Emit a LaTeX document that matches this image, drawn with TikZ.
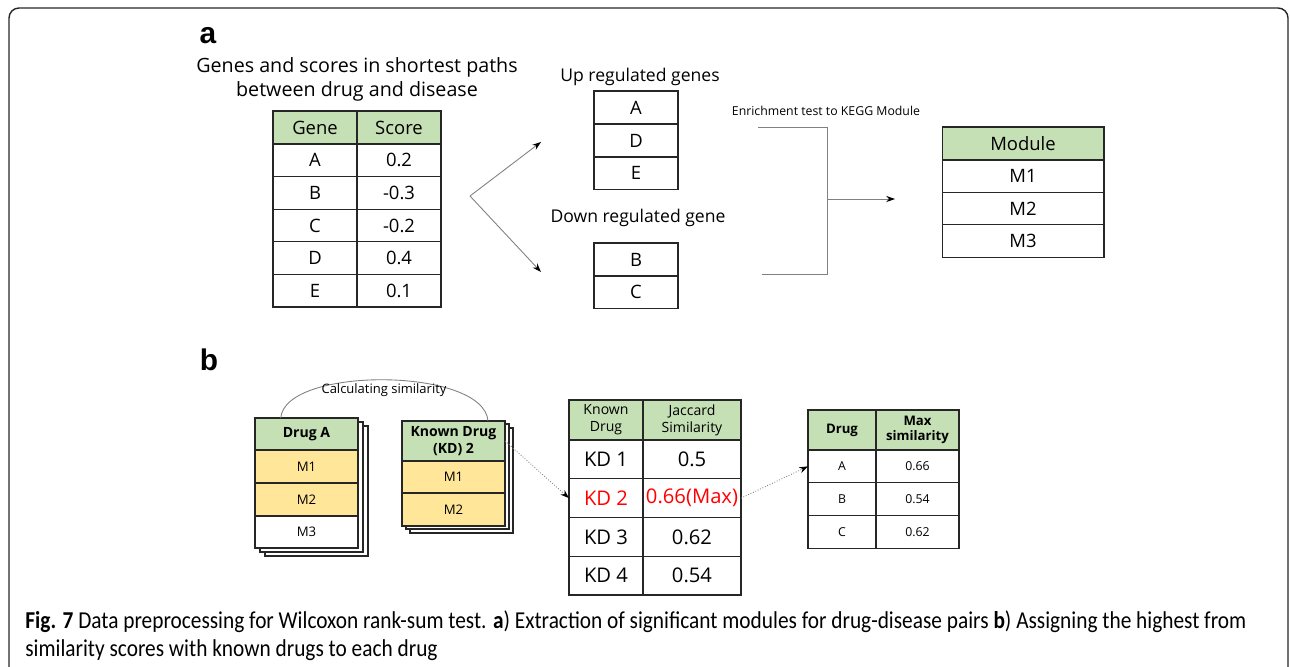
\documentclass[tikz,border=0pt]{standalone}
\usepackage{fontspec}
\setmainfont{Open Sans}
\newfontfamily\labfont{Liberation Sans}
\newfontfamily\capfont[FakeStretch=0.88]{Carlito}
\usepackage{xcolor}
\usetikzlibrary{arrows.meta,calc}

\definecolor{hdgreen}{HTML}{C5E0B4}
\definecolor{mdyellow}{HTML}{FFE699}
\definecolor{linegray}{HTML}{808080}
\definecolor{maxred}{HTML}{FF0000}

\begin{document}
\begin{tikzpicture}[x=0.02cm, y=-0.02cm,
    cell/.style={draw=black!85, line width=0.6pt, inner sep=0pt, outer sep=0pt,
                 align=center, font=\fontsize{10.5}{12}\selectfont},
    head/.style={cell, fill=hdgreen},
    body/.style={font=\fontsize{10}{12}\selectfont},
    small/.style={font=\fontsize{7}{8.5}\selectfont},
    conn/.style={linegray, line width=0.5pt, -{Stealth[length=5pt,width=3.5pt,color=black]}},
    dotconn/.style={linegray, line width=0.5pt, densely dotted, -{Stealth[length=5pt,width=3.5pt,color=black]}},
    stackback/.style={draw=black!85, line width=0.6pt, fill=white}]

    \useasboundingbox (0,0) rectangle (1290,666);
    \draw[black!85, line width=0.8pt, rounded corners=0.2cm] (9,8) rectangle (1288,700);

    % part a
    \node[font=\labfont\bfseries\fontsize{17}{20}\selectfont] (labela) at (208,36) {a};
    \node[align=center, font=\fontsize{11.2}{13.6}\selectfont] (pathtitle) at (357,79)
        {Genes and scores in shortest paths\\between drug and disease};

    \node[head, minimum width=1.68cm, minimum height=0.66cm] (gene) at (315,127.5) {Gene};
    \node[head, minimum width=1.68cm, minimum height=0.66cm] (score) at (399,127.5) {Score};
    \foreach \g/\s [count=\i] in {A/0.2, B/-0.3, C/-0.2, D/0.4, E/0.1} {
        \node[cell, minimum width=1.68cm, minimum height=0.652cm] (g\i) at (315,{127.7+32.6*\i}) {\g};
        \node[cell, minimum width=1.68cm, minimum height=0.652cm] (s\i) at (399,{127.7+32.6*\i}) {\s};
    }

    \coordinate (fork) at (470,196);
    \coordinate (uptip) at (541,142);
    \coordinate (downtip) at (541,272);
    \draw[conn] (fork) -- (uptip);
    \draw[conn] (fork) -- (downtip);

    \node[body] (uptitle) at (640,77) {Up regulated genes};
    \foreach \g/\y [count=\i] in {A/107.5, D/140.5, E/173} {
        \node[cell, minimum width=1.68cm, minimum height=0.66cm] (up\i) at (636,\y) {\g};
    }
    \node[body] (downtitle) at (638,218) {Down regulated gene};
    \foreach \g/\y [count=\i] in {B/259.5, C/292} {
        \node[cell, minimum width=1.68cm, minimum height=0.66cm] (dn\i) at (636,\y) {\g};
    }

    \node[small] (enrich) at (826,111) {Enrichment test to KEGG Module};
    \coordinate (brup) at (758,127);
    \coordinate (brdn) at (762,274);
    \coordinate (brmid) at (827,199);
    \coordinate (modtip) at (895,199);
    \draw[linegray, line width=0.5pt] (brup) -| (brmid) |- (brdn);
    \draw[conn] (brmid) -- (modtip);

    \node[head, minimum width=3.24cm, minimum height=0.66cm] (module) at (1023,143.5) {Module};
    \foreach \m/\y [count=\i] in {M1/176, M2/208.5, M3/241} {
        \node[cell, minimum width=3.24cm, minimum height=0.65cm] (m\i) at (1023,\y) {\m};
    }

    % part b
    \node[font=\labfont\bfseries\fontsize{17}{20}\selectfont] (labelb) at (209,360) {b};

    % drug A stack
    \foreach \d in {10,5}
        \filldraw[stackback] ({255+\d},{418+0.8*\d}) rectangle ({358+\d},{548+0.8*\d});
    \node[head, minimum width=2.06cm, minimum height=0.64cm, font=\bfseries\fontsize{8}{9.5}\selectfont] (dah) at (306.5,434) {Drug A};
    \node[cell, fill=mdyellow, minimum width=2.06cm, minimum height=0.66cm, font=\fontsize{7.5}{9}\selectfont] (da1) at (306.5,466.5) {M1};
    \node[cell, fill=mdyellow, minimum width=2.06cm, minimum height=0.66cm, font=\fontsize{7.5}{9}\selectfont] (da2) at (306.5,499.5) {M2};
    \node[cell, fill=white, minimum width=2.06cm, minimum height=0.64cm, font=\fontsize{7.5}{9}\selectfont] (da3) at (306.5,532) {M3};

    % known drug stack
    \foreach \dx/\dy in {8/7, 4/3}
        \filldraw[stackback] ({402+\dx},{421+\dy}) rectangle ({505+\dx},{526+\dy});
    \node[head, minimum width=2.06cm, minimum height=0.8cm, font=\bfseries\fontsize{8}{9.5}\selectfont] (kh) at (453.5,441) {Known Drug\\(KD) 2};
    \node[cell, fill=mdyellow, minimum width=2.06cm, minimum height=0.64cm, font=\fontsize{7.5}{9}\selectfont] (k1) at (453.5,477) {M1};
    \node[cell, fill=mdyellow, minimum width=2.06cm, minimum height=0.66cm, font=\fontsize{7.5}{9}\selectfont] (k2) at (453.5,509.5) {M2};

    \coordinate (arcA) at ($(dah.north west)!0.25!(dah.north east)$);
    \coordinate (arcK) at ($(kh.north west)!0.835!(kh.north east)$);
    \draw[linegray, line width=0.5pt] (arcA) .. controls +(4,-52) and +(-4,-54) .. (arcK);
    \node[font=\fontsize{7.4}{9}\selectfont] (calc) at (384,390) {Calculating similarity};

    % jaccard table
    \node[head, minimum width=1.48cm, minimum height=0.8cm, font=\fontsize{8}{9.5}\selectfont] (kdh) at (606,420) {Known\\Drug};
    \node[head, minimum width=1.96cm, minimum height=0.8cm, font=\fontsize{8}{9.5}\selectfont] (jsh) at (692,420) {Jaccard\\Similarity};
    \foreach \k/\v/\c [count=\i] in {KD 1/0.5/black, KD 2/0.66(Max)/maxred, KD 3/0.62/black, KD 4/0.54/black} {
        \node[cell, minimum width=1.48cm, minimum height=0.775cm, text=\c, font=\fontsize{11.5}{13}\selectfont] (kd\i) at (606,{420.6+38.75*\i}) {\k};
        \node[cell, minimum width=1.96cm, minimum height=0.775cm, text=\c, font=\fontsize{11.5}{13}\selectfont] (kv\i) at (692,{420.6+38.75*\i}) {\v};
    }
    \draw[dotconn] (kh.east) -- (kd2.west);

    % max similarity table
    \node[head, minimum width=1.36cm, minimum height=0.8cm, font=\bfseries\fontsize{7.5}{8.5}\selectfont] (drh) at (842,430) {Drug};
    \node[head, minimum width=1.66cm, minimum height=0.8cm, font=\bfseries\fontsize{7.5}{8.5}\selectfont] (mxh) at (917.5,430) {Max\\similarity};
    \foreach \d/\v [count=\i] in {A/0.66, B/0.54, C/0.62} {
        \node[cell, minimum width=1.36cm, minimum height=0.653cm, font=\fontsize{7}{8}\selectfont] (dr\i) at (842,{450+32.7*(\i-0.5)}) {\d};
        \node[cell, minimum width=1.66cm, minimum height=0.653cm, font=\fontsize{7}{8}\selectfont] (mx\i) at (917.5,{450+32.7*(\i-0.5)}) {\v};
    }
    \draw[dotconn] (kv2.east) -- (dr1.west);

    % caption
    \node[anchor=base west, align=left, inner sep=0pt, font=\capfont\fontsize{13.8}{15.5}\selectfont] (caption) at (25,656)
        {\textbf{Fig. 7} Data preprocessing for Wilcoxon rank-sum test. \textbf{a}) Extraction of significant modules for drug-disease pairs \textbf{b}) Assigning the highest from\\
         similarity scores with known drugs to each drug};
\end{tikzpicture}
\end{document}
